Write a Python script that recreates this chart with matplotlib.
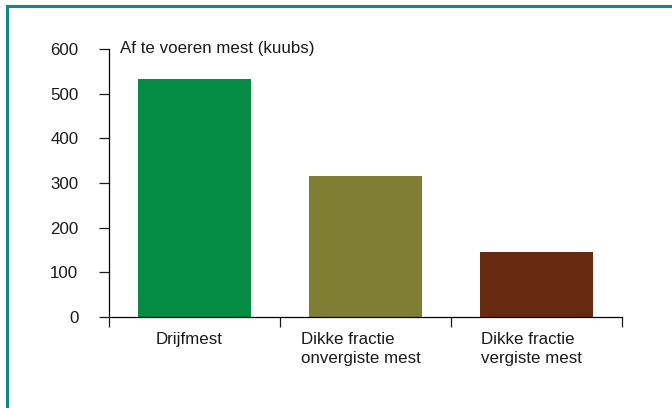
import numpy as np
import matplotlib.pyplot as plt
from matplotlib.lines import Line2D

plt.rcParams['font.family'] = ['Liberation Sans', 'DejaVu Sans']
plt.rcParams['text.color'] = '#1a1a1a'
plt.rcParams['xtick.color'] = '#1a1a1a'
plt.rcParams['ytick.color'] = '#1a1a1a'

categories = ['Drijfmest', 'Dikke fractie\nonvergiste mest', 'Dikke fractie\nvergiste mest']
values = [533, 316, 146]
colors = ['#078c45', '#7f7f33', '#662a10']
y_ticks = [0, 100, 200, 300, 400, 500, 600]
title = 'Af te voeren mest (kuubs)'

fs = 12.2

fig = plt.figure(figsize=(6.72, 4.08), dpi=100)
ax = fig.add_axes([0.162, 0.223, 0.764, 0.657])

x = np.arange(len(categories))
ax.bar(x, values, width=0.66, color=colors)

ax.set_xlim(-0.5, len(categories) - 0.5)
ax.set_ylim(0, 600)

# ticks op de grenzen, labels in het midden
ax.set_xticks(np.arange(len(categories) + 1) - 0.5)
ax.set_xticklabels([])
ax.set_xticks(x - 0.03, minor=True)
ax.set_xticklabels(categories, minor=True, fontsize=fs, multialignment='left',
                   linespacing=1.3)
ax.tick_params(axis='x', which='major', direction='out', length=7, width=0.9)
ax.tick_params(axis='x', which='minor', length=0, pad=11)

ax.set_yticks(y_ticks)
ax.tick_params(axis='y', direction='out', length=7, width=0.9, pad=15, labelsize=fs)

for s in ['top', 'right']:
    ax.spines[s].set_visible(False)
for s in ['left', 'bottom']:
    ax.spines[s].set_linewidth(0.9)

ax.text(0.022, 600, title, transform=ax.get_yaxis_transform(), fontsize=fs,
        va='center', ha='left')

# rand om de figuur (alleen boven en links zichtbaar)
border = '#13878a'
fig.add_artist(Line2D([6.5 / 672, 1], [1 - 6 / 408, 1 - 6 / 408], color=border, lw=2.2,
                      transform=fig.transFigure))
fig.add_artist(Line2D([6.5 / 672, 6.5 / 672], [0, 1 - 6 / 408], color=border, lw=2.2,
                      transform=fig.transFigure))

fig.savefig('out.png', dpi=100)
